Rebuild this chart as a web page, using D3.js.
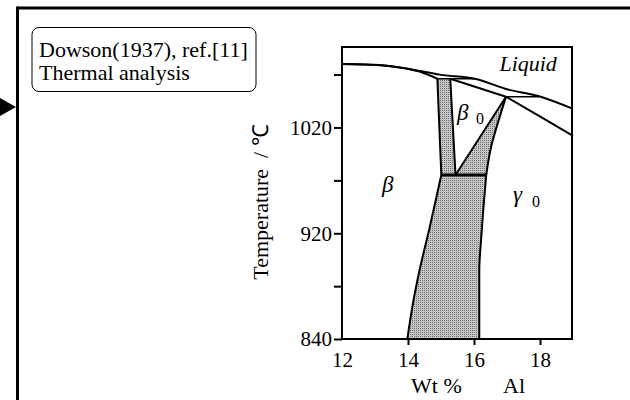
<!DOCTYPE html>
<html>
<head>
<meta charset="utf-8">
<script src="https://cdn.jsdelivr.net/npm/d3@7"></script>
<style>
  html, body { margin: 0; padding: 0; background: #fff; }
  svg { display: block; }
  text { font-family: "Liberation Serif", "Times New Roman", serif; fill: #000; }
</style>
</head>
<body>
<svg id="chart" width="630" height="400"></svg>
<script>
// Axis ticks
const xTicks = [12, 14, 16, 18];
const yTicksMajor = [840, 920, 1020];
const yTicksMinor = [880, 970, 1070];

// Phase boundaries, [wt% Al, temperature °C]
const liquidus = [[12, 1080], [13.15, 1079], [14.15, 1074.6], [14.96, 1069.9], [16.06, 1065.8], [16.97, 1056.4], [17.97, 1049.4], [19, 1037.5]];
const betaSolidus = [[12, 1080], [13.15, 1078.8], [13.65, 1077.2], [14.35, 1072.8], [14.89, 1066]];
const peritecticUpper = [[14.89, 1066], [16.06, 1066]];
const beta0Solidus = [[15.28, 1066], [16.97, 1049]];
const peritecticLower = [[16.97, 1049], [17.97, 1049]];
const gammaSolidus = [[16.97, 1049], [17.97, 1031], [19, 1012]];
const eutectoid = [[15.01, 975], [16.37, 975]];

// Two-phase fields (shaded)
const bandField = [[14.89, 1066], [15.28, 1066], [15.44, 975], [15.01, 975]];
const wedgeField = [[16.97, 1049], [16.72, 1024], [16.52, 1002], [16.37, 975], [15.44, 975]];
const lowerLeftEdge = [[15.01, 975], [14.66, 926], [14.35, 892], [14.15, 867], [13.98, 840]];
const lowerRightEdge = [[16.37, 975], [16.28, 942], [16.22, 917], [16.16, 892], [16.16, 840]];

const svg = d3.select("#chart");

// Page frame and marker arrow
svg.append("line").attr("x1", 17.5).attr("y1", 8).attr("x2", 640).attr("y2", 8)
  .attr("stroke", "#000").attr("stroke-width", 3);
svg.append("line").attr("x1", 17.5).attr("y1", 6.5).attr("x2", 17.5).attr("y2", 410)
  .attr("stroke", "#000").attr("stroke-width", 3);
svg.append("path").attr("d", "M0,98 L16,107 L0,116 Z").attr("fill", "#000");

// Source box
svg.append("rect").attr("x", 32).attr("y", 27.5).attr("width", 224).attr("height", 64)
  .attr("rx", 7).attr("fill", "#fff").attr("stroke", "#000").attr("stroke-width", 1);
svg.append("text").attr("x", 39).attr("y", 57).style("font-size", "22px").text("Dowson(1937), ref.[11]");
svg.append("text").attr("x", 39).attr("y", 80).style("font-size", "22px").text("Thermal analysis");

// Scales: the printed temperature axis is not uniform, so use a piecewise scale
const x = d3.scaleLinear().domain([12, 19]).range([342, 573]);
const y = d3.scaleLinear().domain([840, 920, 1096]).range([339, 233.3, 47]);

// Stipple for two-phase regions
const defs = svg.append("defs");
const pat = defs.append("pattern").attr("id", "stipple").attr("patternUnits", "userSpaceOnUse")
  .attr("width", 2).attr("height", 2);
pat.append("rect").attr("width", 2).attr("height", 2).attr("fill", "#c6c6c6");
pat.append("rect").attr("width", 1).attr("height", 1).attr("fill", "#707070");

const line = d3.line().x(d => x(d[0])).y(d => y(d[1]));
const curve = d3.line().x(d => x(d[0])).y(d => y(d[1])).curve(d3.curveMonotoneX);
const curveY = d3.line().x(d => x(d[0])).y(d => y(d[1])).curve(d3.curveMonotoneY);

const g = svg.append("g");

// Shaded fields
g.append("path").attr("d", line(bandField) + "Z").attr("fill", "url(#stipple)");
g.append("path").attr("d", line(wedgeField) + "Z").attr("fill", "url(#stipple)");
g.append("path")
  .attr("d", curveY(lowerLeftEdge) + "L" + curveY(lowerRightEdge.slice().reverse()).slice(1) + "Z")
  .attr("fill", "url(#stipple)");

// Boundary lines
const stroke = (sel, w) => sel.attr("fill", "none").attr("stroke", "#000").attr("stroke-width", w)
  .attr("stroke-linejoin", "round");
stroke(g.append("path").attr("d", curve(liquidus)), 2);
stroke(g.append("path").attr("d", curve(betaSolidus)), 2);
stroke(g.append("path").attr("d", line(peritecticUpper)), 1.6);
stroke(g.append("path").attr("d", line(beta0Solidus)), 2);
stroke(g.append("path").attr("d", line(peritecticLower)), 1.6);
stroke(g.append("path").attr("d", curve(gammaSolidus)), 2);
stroke(g.append("path").attr("d", line([bandField[0], bandField[3]])), 2);
stroke(g.append("path").attr("d", line([bandField[1], bandField[2]])), 2);
stroke(g.append("path").attr("d", curveY(wedgeField.slice(0, 4))), 2);
stroke(g.append("path").attr("d", line([wedgeField[0], wedgeField[4]])), 2);
stroke(g.append("path").attr("d", line(eutectoid)), 3);
stroke(g.append("path").attr("d", curveY(lowerLeftEdge)), 2);
stroke(g.append("path").attr("d", curveY(lowerRightEdge)), 2);

// Plot frame
svg.append("rect").attr("x", x(12)).attr("y", y(1096)).attr("width", x(19) - x(12) - 1)
  .attr("height", y(840) - y(1096)).attr("fill", "none").attr("stroke", "#000").attr("stroke-width", 2);

// Axes
const yAxis = svg.append("g").attr("transform", `translate(${x(12)},0)`)
  .call(d3.axisLeft(y).tickValues(yTicksMajor).tickSize(8).tickPadding(2).tickFormat(d3.format("d")));
const yMinor = svg.append("g").attr("transform", `translate(${x(12)},0)`)
  .call(d3.axisLeft(y).tickValues(yTicksMinor).tickSize(8).tickFormat(""));
const xAxis = svg.append("g").attr("transform", `translate(0,${y(840)})`)
  .call(d3.axisBottom(x).tickValues(xTicks).tickSize(6).tickPadding(7).tickFormat(d3.format("d")));
[yAxis, yMinor, xAxis].forEach(a => {
  a.attr("font-family", null).attr("font-size", null);
  a.select(".domain").remove();
  a.selectAll("line").attr("stroke", "#000").attr("stroke-width", 2);
  a.selectAll("text").style("font-family", "'Liberation Serif', serif").style("font-size", "21px").attr("fill", "#000");
});
xAxis.selectAll(".tick").filter(d => d === 12).select("line").remove();

// Axis titles
svg.append("text").attr("transform", "translate(268,202) rotate(-90)").attr("text-anchor", "middle")
  .style("font-size", "22px").attr("xml:space", "preserve").text("Temperature  / \u2103");
svg.append("text").attr("x", 411).attr("y", 393).style("font-size", "22px").text("Wt %");
svg.append("text").attr("x", 503).attr("y", 393).style("font-size", "22px").text("Al");

// Phase labels
svg.append("text").attr("x", x(16.77)).attr("y", 71).style("font-size", "22px").attr("font-style", "italic").text("Liquid");
svg.append("text").attr("x", 457).attr("y", 120).style("font-size", "23px").attr("font-style", "italic").text("\u03b2");
svg.append("text").attr("x", 476).attr("y", 124).style("font-size", "16px").text("0");
svg.append("text").attr("x", 382).attr("y", 192).style("font-size", "23px").attr("font-style", "italic").text("\u03b2");
svg.append("text").attr("x", 513).attr("y", 202).style("font-size", "23px").attr("font-style", "italic").text("\u03b3");
svg.append("text").attr("x", 532).attr("y", 207).style("font-size", "16px").text("0");
</script>
</body>
</html>
